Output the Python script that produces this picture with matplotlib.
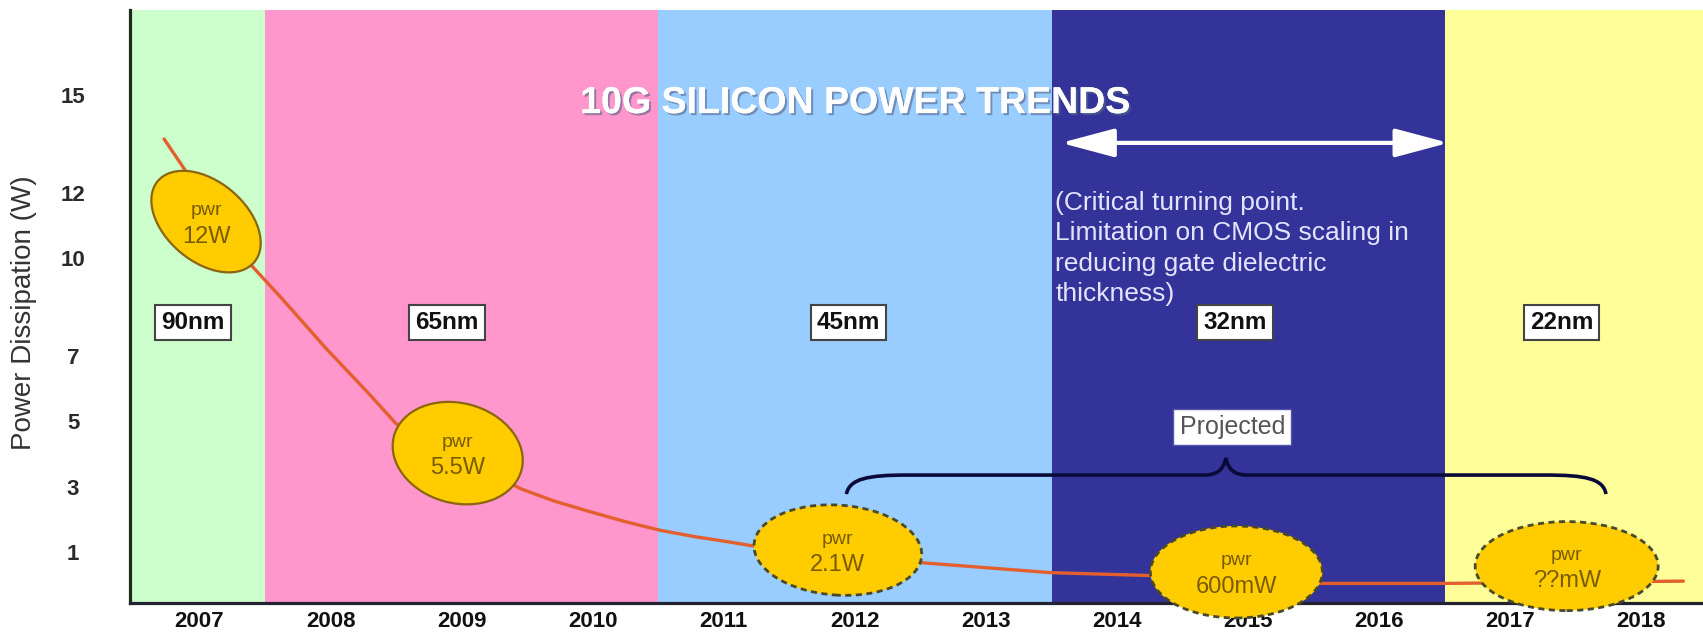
import matplotlib
matplotlib.use('Agg')
import matplotlib.pyplot as plt
from matplotlib.patches import Ellipse, FancyArrowPatch, PathPatch
from matplotlib.path import Path
from matplotlib.transforms import ScaledTranslation
import matplotlib.patheffects as pe

plt.rcParams['font.family'] = ['Liberation Sans', 'DejaVu Sans']

# ---------------- data ----------------
years = list(range(2007, 2019))
yticks = [1, 3, 5, 7, 10, 12, 15]

nodes = ['90nm', '65nm', '45nm', '32nm', '22nm']
node_start = [2006.47, 2007.5, 2010.5, 2013.5, 2016.5]
node_end = [2007.5, 2010.5, 2013.5, 2016.5, 2018.47]
node_colors = ['#CCFFCC', '#FF96CC', '#99CCFF', '#333399', '#FFFF99']
node_label_x = [2006.95, 2008.89, 2011.95, 2014.90, 2017.39]
node_label_y = 8.03

curve_year = [2006.73, 2006.92, 2007.05, 2007.40, 2007.63, 2007.96, 2008.29,
              2008.50, 2009.45, 2009.70, 2009.95, 2010.24, 2010.51, 2010.78,
              2011.04, 2011.25, 2011.87, 2012.52, 2013.49, 2014.26, 2015.57,
              2016.51, 2018.32]
curve_power = [13.65, 12.52, 11.15, 9.76, 8.76, 7.26, 5.86,
               4.93, 2.94, 2.57, 2.27, 1.94, 1.67, 1.47,
               1.31, 1.17, 1.07, 0.67, 0.37, 0.28, 0.04,
               0.04, 0.11]

pwr_labels = ['12W', '5.5W', '2.1W', '600mW', '??mW']
pwr_year = [2007.05, 2008.97, 2011.87, 2014.91, 2017.43]
pwr_value = [11.12, 4.03, 1.06, 0.39, 0.57]
pwr_projected = [False, False, True, True, True]

# ---------------- figure ----------------
W, H, DPI = 1703, 635, 100
fig = plt.figure(figsize=(W / DPI, H / DPI), dpi=DPI)
ax = fig.add_axes([130 / W, 1 - 603 / H, (W - 130) / W, (603 - 10) / H])
ax.set_xlim(2006.47, 2018.47)
ax.set_ylim(-0.56, 17.6)

for s, e, c in zip(node_start, node_end, node_colors):
    ax.axvspan(s, e, color=c, lw=0, zorder=0)

ax.plot(curve_year, curve_power, color='#E3602E', lw=2.4, zorder=2,
        solid_capstyle='round', solid_joinstyle='round')

# ellipses in pixel sizes
ell_w = [126, 132, 168, 172, 183]
ell_h = [80, 100, 90, 92, 89]
ell_ang = [-40, -15, -4, 0, 0]
for i, lab in enumerate(pwr_labels):
    tr = fig.dpi_scale_trans + ScaledTranslation(pwr_year[i], pwr_value[i], ax.transData)
    kw = dict(facecolor='#FFCC00', zorder=3, clip_on=False, transform=tr)
    if pwr_projected[i]:
        kw.update(edgecolor='#4a4a2a', lw=2.0, linestyle=(0, (2.2, 1.6)))
    else:
        kw.update(edgecolor='#8B6510', lw=1.6)
    ax.add_patch(Ellipse((0, 0), ell_w[i] / DPI, ell_h[i] / DPI, angle=ell_ang[i], **kw))
    ax.annotate('pwr', xy=(pwr_year[i], pwr_value[i]), xytext=(0, 11),
                textcoords='offset pixels', ha='center', va='center',
                fontsize=14, color='#7A5C00', zorder=5, annotation_clip=False)
    ax.annotate(lab, xy=(pwr_year[i], pwr_value[i]), xytext=(0, -15),
                textcoords='offset pixels', ha='center', va='center',
                fontsize=17, color='#7A5C00', zorder=5, annotation_clip=False)

# node labels
for x, t in zip(node_label_x, nodes):
    ax.text(x, node_label_y, t, ha='center', va='center', fontsize=17.5,
            fontweight='bold', color='#111111', zorder=6,
            bbox=dict(boxstyle='square,pad=0.25', fc='white', ec='#444444', lw=1.5))

# title
ax.text(2012.0, 14.75, '10G SILICON POWER TRENDS', ha='center', va='center',
        fontsize=27, fontweight='bold', color='white', zorder=6,
        path_effects=[pe.withSimplePatchShadow(offset=(1.5, -1.5), shadow_rgbFace='#556688', alpha=0.6),
                      pe.Normal()])

# double arrow
arr = FancyArrowPatch((2013.55, 13.53), (2016.55, 13.53),
                      arrowstyle='<|-|>,head_length=1.5,head_width=0.4',
                      mutation_scale=22, color='white', lw=3, zorder=6)
ax.add_patch(arr)

ax.text(2013.53, 10.30,
        '(Critical turning point.\nLimitation on CMOS scaling in\nreducing gate dielectric\nthickness)',
        ha='left', va='center', fontsize=19, color='#E4E4FF', linespacing=1.33, zorder=6)

# brace
verts = [(2011.935, 2.776), (2011.96, 3.25), (2012.10, 3.358), (2012.40, 3.358),
         (2014.66, 3.358),
         (2014.76, 3.358), (2014.81, 3.50), (2014.83, 3.88),
         (2014.85, 3.50), (2014.90, 3.358), (2015.00, 3.358),
         (2017.27, 3.358),
         (2017.57, 3.358), (2017.71, 3.25), (2017.73, 2.776)]
codes = [Path.MOVETO, Path.CURVE4, Path.CURVE4, Path.CURVE4,
         Path.LINETO,
         Path.CURVE4, Path.CURVE4, Path.CURVE4,
         Path.CURVE4, Path.CURVE4, Path.CURVE4,
         Path.LINETO,
         Path.CURVE4, Path.CURVE4, Path.CURVE4]
ax.add_patch(PathPatch(Path(verts, codes), fc='none', ec='#0A0A3A', lw=2.6, zorder=4))

ax.text(2014.88, 4.83, 'Projected', ha='center', va='center', fontsize=18,
        color='#555555', zorder=6,
        bbox=dict(boxstyle='square,pad=0.25', fc='white', ec='#5555AA', lw=1.0))

# axes styling
ax.set_xticks(years)
ax.set_xticklabels([str(y) for y in years])
ax.set_yticks(yticks)
ax.set_yticklabels([str(v) for v in yticks])
ax.tick_params(axis='x', length=0, pad=6, labelsize=16, labelcolor='#111111')
ax.tick_params(axis='y', length=0, pad=41, labelsize=16, labelcolor='#2a2a2a')
for lab in ax.get_xticklabels():
    lab.set_fontweight('bold')
for lab in ax.get_yticklabels():
    lab.set_fontweight('bold')
    lab.set_horizontalalignment('center')

ax.set_ylabel('Power Dissipation (W)', fontsize=20, color='#333333', va='center')
ax.yaxis.set_label_coords(-0.0674, 0.49)

for sp in ['top', 'right']:
    ax.spines[sp].set_visible(False)
ax.spines['left'].set_color('#1E2A1E')
ax.spines['bottom'].set_color('#222230')
ax.spines['left'].set_linewidth(2.3)
ax.spines['bottom'].set_linewidth(2.3)
ax.spines['left'].set_zorder(2.5)
ax.spines['bottom'].set_zorder(2.5)

fig.savefig('out.png', dpi=DPI)
